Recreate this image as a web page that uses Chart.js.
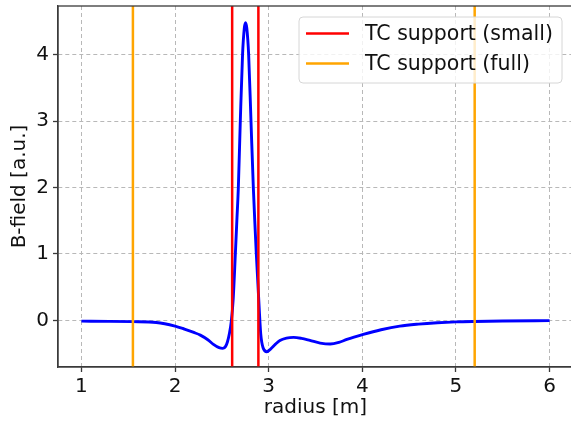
<!DOCTYPE html>
<html>
<head>
<meta charset="utf-8">
<script src="https://cdn.jsdelivr.net/npm/chart.js@4"></script>
<style>
  html, body { margin: 0; padding: 0; background: #fff; overflow: hidden; }
  #chart { display: block; }
</style>
</head>
<body>
<canvas id="chart" width="573" height="422"></canvas>
<script>
// radius [m] and field values
const radius = [1.0, 1.3, 1.55, 1.8, 2.0, 2.1, 2.2, 2.27, 2.35, 2.41, 2.47, 2.51, 2.54, 2.56, 2.58, 2.6,
    2.62, 2.644, 2.66, 2.676, 2.697, 2.721, 2.74, 2.753, 2.766, 2.786, 2.811, 2.836, 2.853, 2.868,
    2.885, 2.9, 2.915, 2.94, 2.98, 3.02, 3.07, 3.12, 3.19, 3.266, 3.35, 3.44, 3.55, 3.657, 3.75,
    3.835, 4.01, 4.2, 4.4, 4.6, 4.8, 5.0, 5.2, 5.5, 6.0];
const bField = [-0.01, -0.013, -0.018, -0.03, -0.085, -0.13, -0.18, -0.22, -0.29, -0.36, -0.41, -0.42, -0.39, -0.32, -0.2, -0.02,
    0.3, 1.0, 1.5, 2.0, 3.0, 4.0, 4.4, 4.48, 4.4, 4.0, 3.0, 2.0, 1.45, 1.0,
    0.55, 0.15, -0.2, -0.41, -0.47, -0.43, -0.36, -0.3, -0.265, -0.255, -0.27, -0.3, -0.34, -0.355, -0.33,
    -0.285, -0.21, -0.14, -0.085, -0.055, -0.035, -0.022, -0.015, -0.008, -0.002];

const smallSupport = [2.61, 2.89];
const fullSupport = [1.55, 5.2];

const xTicks = [1, 2, 3, 4, 5, 6];
const yTicks = [0, 1, 2, 3, 4];

const xMin = 0.75, xMax = 6.25;
const yMin = -0.70, yMax = 4.73;

function verticalLines(positions) {
    const pts = [];
    positions.forEach(r => {
        pts.push({ x: r, y: yMin - 1 }, { x: r, y: yMax + 1 }, { x: r, y: null });
    });
    return pts;
}

const fieldPoints = radius.map((r, i) => ({ x: r, y: bField[i] }));

const axisColor = '#3a3a3a';
const gridColor = '#b8b8b8';
const font = { family: 'DejaVu Sans', size: 20 };

// box around the plot + matplotlib-like legend
const framePlugin = {
    id: 'frame',
    afterDraw(chart) {
        const { ctx, chartArea: a } = chart;
        ctx.save();
        ctx.strokeStyle = axisColor;
        ctx.lineWidth = 1.3;
        ctx.strokeRect(a.left, a.top, a.right - a.left, a.bottom - a.top);

        const items = chart.data.datasets.filter(d => d.inLegend);
        const bx = 299, by = 17, bw = 263, bh = 66;
        ctx.beginPath();
        ctx.roundRect(bx, by, bw, bh, 4);
        ctx.fillStyle = 'rgba(255,255,255,0.8)';
        ctx.fill();
        ctx.strokeStyle = '#d6d6d6';
        ctx.lineWidth = 1;
        ctx.stroke();

        ctx.font = '20.5px "DejaVu Sans"';
        ctx.textBaseline = 'middle';
        items.forEach((d, i) => {
            const y = by + 16.5 + i * 30;
            ctx.strokeStyle = d.borderColor;
            ctx.lineWidth = 2.5;
            ctx.beginPath();
            ctx.moveTo(306, y);
            ctx.lineTo(349, y);
            ctx.stroke();
            ctx.fillStyle = '#111';
            ctx.fillText(d.label, 365, y + 1);
        });
        ctx.restore();
    }
};

const fixedTicks = values => scale => {
    scale.ticks = values.map(v => ({ value: v }));
};

new Chart(document.getElementById('chart').getContext('2d'), {
    type: 'line',
    data: {
        datasets: [
            {
                label: 'TC support (small)',
                inLegend: true,
                data: verticalLines(smallSupport),
                borderColor: '#ff0000',
                borderWidth: 2.5,
                pointRadius: 0,
                spanGaps: false
            },
            {
                label: 'TC support (full)',
                inLegend: true,
                data: verticalLines(fullSupport),
                borderColor: '#ffa500',
                borderWidth: 2.5,
                pointRadius: 0,
                spanGaps: false
            },
            {
                label: 'B-field',
                data: fieldPoints,
                borderColor: '#0000ff',
                borderWidth: 2.9,
                pointRadius: 0,
                cubicInterpolationMode: 'monotone'
            }
        ]
    },
    options: {
        responsive: false,
        animation: false,
        events: [],
        layout: { padding: { top: 6, right: 0, left: 0, bottom: 0 } },
        plugins: {
            legend: { display: false },
            tooltip: { enabled: false }
        },
        scales: {
            x: {
                type: 'linear',
                min: xMin,
                max: xMax,
                afterBuildTicks: fixedTicks(xTicks),
                afterFit: s => { s.height = 55; s.paddingLeft = 0; s.paddingRight = 0; },
                ticks: { color: '#111', font: font, padding: 3, maxRotation: 0, autoSkip: false },
                grid: { color: gridColor, lineWidth: 1, tickLength: 5, tickColor: axisColor, tickWidth: 1.3 },
                border: { color: axisColor, width: 1.3, dash: [4, 3] },
                title: { display: true, text: 'radius [m]', color: '#111', font: font, padding: { top: 0, bottom: 2 } }
            },
            y: {
                min: yMin,
                max: yMax,
                afterBuildTicks: fixedTicks(yTicks),
                afterFit: s => { s.width = 58; s.paddingTop = 0; s.paddingBottom = 0; },
                ticks: { color: '#111', font: font, padding: 4, autoSkip: false },
                grid: { color: gridColor, lineWidth: 1, tickLength: 5, tickColor: axisColor, tickWidth: 1.3 },
                border: { color: axisColor, width: 1.3, dash: [4, 3] },
                title: { display: true, text: 'B-field [a.u.]', color: '#111', font: font, padding: { top: 8, bottom: 0 } }
            }
        }
    },
    plugins: [framePlugin]
});
</script>
</body>
</html>
